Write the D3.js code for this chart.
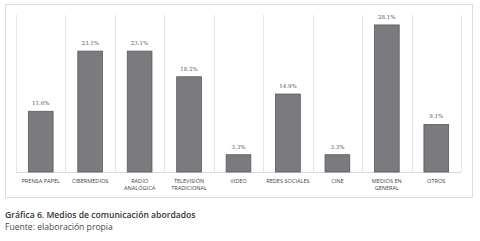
<!DOCTYPE html>
<html><head><meta charset="utf-8">
<script src="https://cdn.jsdelivr.net/npm/d3@7"></script>
<style>body{margin:0;background:#fff}svg{display:block}</style>
</head><body>
<script>
const categories = [["PRENSA PAPEL"],["CIBERMEDIOS"],["RADIO","ANALÓGICA"],["TELEVISIÓN","TRADICIONAL"],["VIDEO"],["REDES SOCIALES"],["CINE"],["MEDIOS EN","GENERAL"],["OTROS"]];
const values = [11.6, 23.1, 23.1, 18.2, 3.3, 14.9, 3.3, 28.1, 9.1];
const labels = ["11.6%","23.1%","23.1%","18.2%","3.3%","14.9%","3.3%","28.1%","9.1%"];
const title = "Gráfica 6. Medios de comunicación abordados";
const source = "Fuente: elaboración propia";

const W = 480, H = 241;
const svg = d3.select("body").append("svg").attr("width", W).attr("height", H);
svg.append("rect").attr("x", 5.5).attr("y", 4.5).attr("width", 467).attr("height", 193)
  .attr("fill", "#fff").attr("stroke", "#dcdcdc").attr("stroke-width", 1);

const x = d3.scaleBand().domain(d3.range(values.length)).range([16, 461]).paddingInner(0).paddingOuter(0);
const y = d3.scaleLinear().domain([0, 30]).range([172, 15]);

// separators
const seps = d3.range(values.length + 1).map(i => i < values.length ? x(i) : x(values.length - 1) + x.bandwidth());
svg.selectAll("line.sep").data(seps).join("line")
  .attr("x1", d => Math.round(d) + 0.5).attr("x2", d => Math.round(d) + 0.5)
  .attr("y1", y(30)).attr("y2", y(0))
  .attr("stroke", "#e3e3e3").attr("stroke-width", 1);
svg.append("line").attr("x1", 16).attr("x2", 461).attr("y1", y(0) + 0.5).attr("y2", y(0) + 0.5)
  .attr("stroke", "#d9d9d9");

const bw = x.bandwidth() * 0.5;
svg.selectAll("rect.bar").data(values).join("rect")
  .attr("x", (d, i) => x(i) + (x.bandwidth() - bw) / 2)
  .attr("y", d => y(d)).attr("width", bw).attr("height", d => y(0) - y(d))
  .attr("fill", "#7b7a7f").attr("stroke", "#5a5a5e").attr("stroke-width", 0.8);

svg.selectAll("text.val").data(values).join("text")
  .attr("x", (d, i) => x(i) + x.bandwidth() / 2).attr("y", d => y(d) - 6)
  .attr("text-anchor", "middle").attr("font-family", "DejaVu Serif").attr("font-size", 5.5)
  .attr("fill", "#555").text((d, i) => labels[i]);

const cat = svg.selectAll("text.cat").data(categories).join("text")
  .attr("x", (d, i) => x(i) + x.bandwidth() / 2).attr("y", 183)
  .attr("text-anchor", "middle").attr("font-family", "Open Sans").attr("font-size", 5.6)
  .attr("fill", "#444");
cat.selectAll("tspan").data(d => d).join("tspan")
  .attr("x", function(){ return this.parentNode.getAttribute("x"); })
  .attr("dy", (d, i) => i ? 7.3 : 0).text(d => d);

svg.append("text").attr("x", 5).attr("y", 218).attr("font-family", "Open Sans").attr("font-weight", 600)
  .attr("font-size", 8.6).attr("fill", "#333").text(title);
svg.append("text").attr("x", 5).attr("y", 230).attr("font-family", "Open Sans")
  .attr("font-size", 8.6).attr("fill", "#4a4a4a").text(source);
</script>
</body></html>
